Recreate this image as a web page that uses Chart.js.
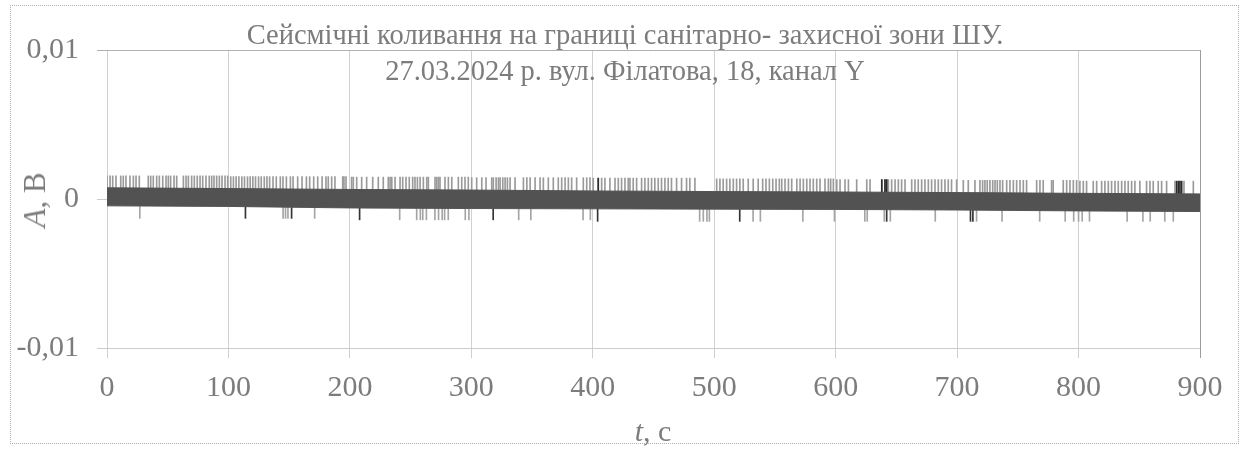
<!DOCTYPE html>
<html>
<head>
<meta charset="utf-8">
<script src="https://cdn.jsdelivr.net/npm/chart.js@4.4.1/dist/chart.umd.min.js"></script>
<style>
  html, body { margin: 0; padding: 0; background: #fff; }
  #wrap { position: relative; width: 1242px; height: 450px; overflow: hidden; }
  #frame { position: absolute; left: 10px; top: 5px; width: 1227px; height: 437px; border: 1px dotted #b0b0b0; }
  canvas { position: absolute; left: 0; top: 0; }
  .txt { position: absolute; font-family: "Liberation Serif", "DejaVu Serif", serif; color: #7c7c7c; white-space: nowrap; }
  #title { left: 0; width: 1250px; top: 17px; text-align: center; font-size: 28.5px; line-height: 36px; }
  #ytitle { left: 35px; top: 200px; font-size: 31px; transform: translate(-50%, -50%) rotate(-90deg); }
  #xtitle { left: 653px; top: 431px; font-size: 30px; transform: translate(-50%, -50%); }
</style>
</head>
<body>
<div id="wrap">
  <div id="frame"></div>
  <canvas id="seismo" width="1242" height="450"></canvas>
  <div id="title" class="txt">Сейсмічні коливання на границі санітарно- захисної зони ШУ.<br>27.03.2024 р. вул. Філатова, 18, канал Y</div>
  <div id="ytitle" class="txt"><i>A</i>, В</div>
  <div id="xtitle" class="txt"><i>t</i>, с</div>
</div>
<script>
// band envelope (s, V)
const bandT = [0, 100, 200, 300, 400, 500, 600, 700, 800, 900];
const bandTop = [0.00075, 0.0007, 0.00064, 0.0006, 0.00054, 0.0005, 0.00047, 0.00043, 0.00038, 0.00034];
const bandBottom = [-0.00046, -0.0005, -0.0006, -0.00064, -0.00066, -0.00068, -0.0007, -0.00074, -0.0008, -0.00084];

// spike extremes for each 100 s segment
const spikeTop = [0.00155, 0.0015, 0.00147, 0.00143, 0.0014, 0.00135, 0.0013, 0.00125, 0.0012];
const spikeBottom = [-0.0013, -0.0013, -0.0014, -0.0014, -0.0015, -0.0015, -0.0015, -0.0015, -0.0015];

const upperSpikeT = [
  0, 2.5, 4.7, 7.4, 11.3, 13.4, 15.6, 18.9, 21.7, 23.9, 26.6, 34, 36, 38.1, 40.9, 43.1, 45.9, 48.6, 50.5, 52.4,
  55.2, 57.4, 62.9, 65.1, 67, 69.7, 71.9, 74.3, 76.6, 78.8, 81.5, 84.2, 86.2, 88.1, 90.3, 92.5, 94.7, 97.2, 99.4,
  101.9, 104.1, 106.3, 108.6, 111, 113.2, 115.7, 117.9, 120.1, 122.3, 124.8, 127, 129.5, 131.7, 133.9, 136.7,
  139.4, 142.7, 144.9, 147.7, 151, 153.2, 157, 160.6, 164.2, 166.9, 170.2, 173.5, 177.1, 180.3, 182.2, 185,
  187.7, 194.1, 195.1, 196.8, 201.4, 202.8, 205.6, 209.7, 213.8, 218.8, 223.4, 227.5, 231.6, 233.1, 234.5, 237.2,
  241.3, 243.5, 246.2, 248.9, 251.7, 253.6, 255.6, 257.8, 260.5, 263.3, 264.6, 270.1, 271.5, 272.9, 274.2, 278.3,
  281.1, 283.9, 289.3, 292.1, 294.8, 297.5, 300.3, 304.4, 308.6, 312.1, 316.8, 318.1, 320.4, 322.3, 323.7, 325.9,
  327.8, 329.7, 331.9, 336, 342.9, 345.7, 348.4, 352.5, 356.6, 359.3, 363.4, 367.5, 371.6, 374.4, 377.2, 379.9,
  382.6, 386.7, 392.2, 395, 397.7, 400.4, 404.5, 407.3, 410, 414.1, 418.3, 421, 423.7, 426.5, 429.2, 430.6, 433.3,
  436.1, 440.2, 442.9, 445.7, 448.4, 451.1, 453.9, 456.6, 459.4, 462.1, 464.8, 469, 473.1, 477.2, 479.9, 484.1,
  502, 504.7, 507.4, 510.2, 512.9, 515.7, 518.4, 521.1, 523.9, 528, 532.1, 536.2, 539.9, 542.6, 545.4, 548.2,
  550.9, 553.6, 555.6, 558.3, 561.1, 563.8, 568, 570.7, 573.4, 576.2, 578.9, 581.6, 584.4, 587.1, 591.2, 594,
  595.9, 598.1, 600.9, 603.6, 607.7, 610.5, 617.3, 625.6, 628.3, 637.9, 640.6, 642, 643.4, 646.1, 648.9, 651.6,
  654.3, 657.1, 662.6, 665.3, 668, 670.8, 673.5, 676.3, 679, 681.8, 684.5, 687.2, 690, 692.7, 695.4, 699.6, 705.1,
  709.2, 714.7, 718.8, 721, 722.9, 724.8, 727, 729.3, 731.2, 733.1, 735.3, 737.5, 740.8, 743.5, 746.3, 749, 751.8,
  754.5, 757.2, 765.5, 768.2, 770.9, 777.8, 779.1, 787.4, 790.2, 792.9, 795.7, 798.4, 801.1, 803.9, 806.6, 812.1,
  814.9, 819, 821.7, 824.5, 827.2, 830, 832.7, 835.5, 838.2, 840.9, 843.7, 846.4, 850.5, 856, 858.8, 861.5, 865.6,
  868.4, 872.5, 879.4, 886.8, 894.5
];
const darkUpperSpikeT = [404.5, 638, 640.6, 642, 880.8, 882.2, 883.5, 884.9];

const lowerSpikeT = [
  27, 145, 147, 149, 171, 241, 255, 258, 260, 263, 270, 273, 276, 278, 281, 295, 298, 339, 349, 392, 398,
  488, 491, 494, 496, 532, 538, 573, 599, 624, 626, 640, 645, 682, 716, 737, 768, 789, 796, 800, 803, 809,
  840, 853, 859, 871, 878
];
const darkLowerSpikeT = [114, 152, 208, 318, 404, 521, 642, 711, 713];

const xTicks = [0, 100, 200, 300, 400, 500, 600, 700, 800, 900];
const yTicks = [-0.01, 0, 0.01];

const seg = t => Math.min(8, Math.floor(t / 100));
const upBars = ts => ts.map(t => ({ x: t, y: [0, spikeTop[seg(t)]] }));
const downBars = ts => ts.map(t => ({ x: t, y: [spikeBottom[seg(t)], 0] }));

const ctx = document.getElementById("seismo");

new Chart(ctx, {
  type: 'bar',
  data: {
    datasets: [
      {
        type: 'line',
        data: bandT.map((t, i) => ({ x: t, y: bandTop[i] })),
        fill: '+1',
        backgroundColor: '#525252',
        borderColor: '#525252',
        borderWidth: 1,
        pointRadius: 0,
        order: 0
      },
      {
        type: 'line',
        data: bandT.map((t, i) => ({ x: t, y: bandBottom[i] })),
        fill: false,
        borderColor: '#585858',
        borderWidth: 1,
        pointRadius: 0,
        order: 0
      },
      { data: upBars(upperSpikeT), backgroundColor: '#9a9a9a', barThickness: 1, grouped: false, order: 2 },
      { data: upBars(darkUpperSpikeT), backgroundColor: '#2a2a2a', barThickness: 1, grouped: false, order: 1 },
      { data: downBars(lowerSpikeT), backgroundColor: '#a5a5a5', barThickness: 1, grouped: false, order: 2 },
      { data: downBars(darkLowerSpikeT), backgroundColor: '#333333', barThickness: 1, grouped: false, order: 1 }
    ]
  },
  options: {
    responsive: false,
    animation: false,
    layout: { padding: { left: 0, right: 42, top: 50, bottom: 0 } },
    plugins: { legend: { display: false }, tooltip: { enabled: false } },
    scales: {
      x: {
        type: 'linear',
        min: 0,
        max: 900,
        offset: false,
        afterBuildTicks: s => { s.ticks = xTicks.map(v => ({ value: v })); },
        afterFit: s => { s.height = 102; },
        border: { display: false },
        grid: {
          offset: false,
          color: c => c.tick && c.tick.value === 900 ? '#9c9c9c' : '#d0d0d0',
          tickLength: 10
        },
        ticks: {
          padding: 12,
          color: '#7c7c7c',
          font: { family: 'Liberation Serif', size: 30 }
        }
      },
      y: {
        min: -0.01,
        max: 0.01,
        afterBuildTicks: s => { s.ticks = yTicks.map(v => ({ value: v })); },
        afterFit: s => { s.width = 107; },
        border: { display: false },
        grid: {
          color: c => c.tick && c.tick.value === 0.01 ? '#b0b0b0' : '#cccccc',
          tickLength: 10
        },
        ticks: {
          padding: 18,
          color: '#7c7c7c',
          font: { family: 'Liberation Serif', size: 30 },
          callback: v => String(v).replace('.', ',')
        }
      }
    }
  }
});
</script>
</body>
</html>
